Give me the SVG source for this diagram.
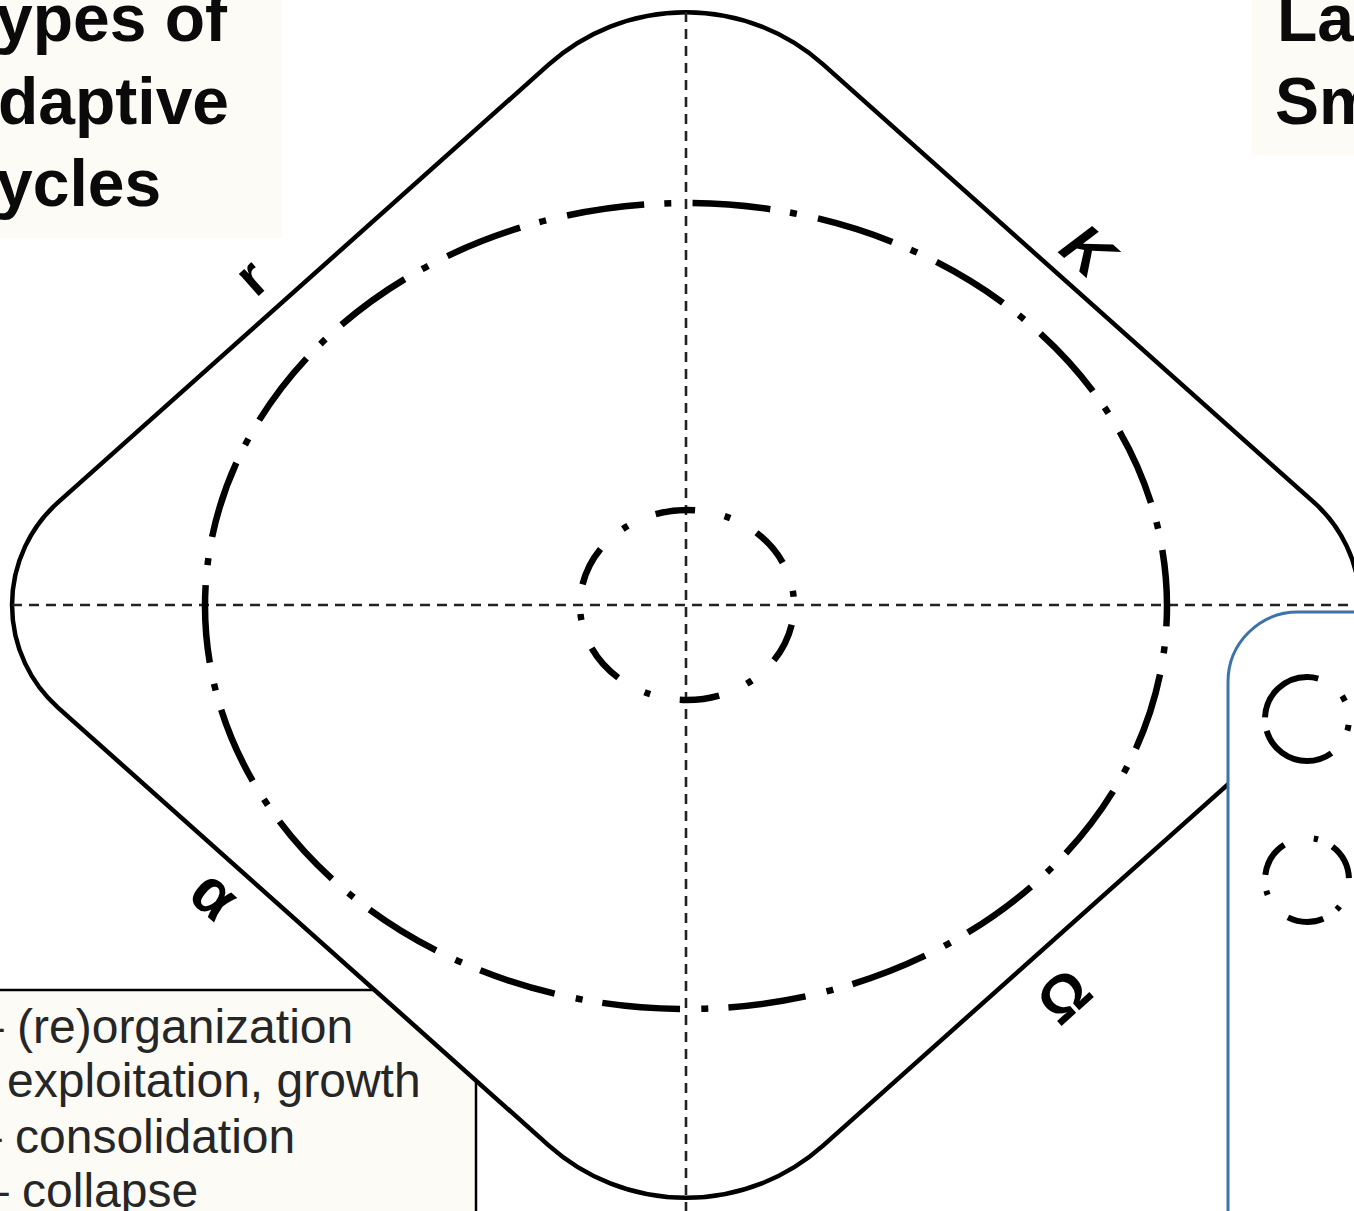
<svg xmlns="http://www.w3.org/2000/svg" width="1354" height="1211" viewBox="0 0 1354 1211">
  <defs>
    <style>
      .cream { fill: #fcfbf6; }
      .title { font-family: "Liberation Sans", Arial, sans-serif; font-weight: bold; font-size: 66px; fill: #0a0a0a; }
      .legend { font-family: "Liberation Sans", Arial, sans-serif; font-size: 48px; fill: #262626; }
      .lbl { font-family: "Liberation Sans", Arial, sans-serif; font-weight: bold; fill: #000; text-anchor: middle; }
      .axis { fill: none; stroke: #222; stroke-width: 2.6; stroke-dasharray: 10 7; }
      .cycle { fill: none; stroke: #000; stroke-width: 6.5; }
    </style>
  </defs>
  <rect width="1354" height="1211" fill="#ffffff"/>

  <g id="title-left">
    <rect class="cream" x="0" y="0" width="282" height="238"/>
    <text class="title" x="-4" y="41">ypes of</text>
    <text class="title" x="-2" y="124">daptive</text>
    <text class="title" x="-4" y="206">ycles</text>
  </g>

  <g id="title-right">
    <rect class="cream" x="1252" y="0" width="110" height="155"/>
    <text class="title" x="1277" y="41">La</text>
    <text class="title" x="1275" y="124">Sm</text>
  </g>

  <g id="legend-box">
    <rect class="cream" x="-5" y="990" width="481" height="300" stroke="#000" stroke-width="2.5"/>
  </g>

  <g id="cycle-shape">
    <path d="M 548.9 64.4 A 206 206 0 0 1 823.1 64.4 L 1314 502.4 A 137.5 137.5 0 0 1 1314 707.6 L 823.1 1145.6 A 206 206 0 0 1 548.9 1145.6 L 58 707.6 A 137.5 137.5 0 0 1 58 502.4 Z" fill="#ffffff" stroke="#000" stroke-width="4.5"/>
  </g>

  <g id="legend-text">
    <text class="legend" x="-23" y="1043">– (re)organization</text>
    <text class="legend" x="-33" y="1097">– exploitation, growth</text>
    <text class="legend" x="-25" y="1153">– consolidation</text>
    <text class="legend" x="-18" y="1207">– collapse</text>
  </g>

  <g id="connectors">
    <line class="axis" x1="12" y1="605" x2="1354" y2="605"/>
    <line class="axis" x1="686" y1="12" x2="686" y2="1211"/>
  </g>

  <g id="large-cycle">
    <ellipse class="cycle" cx="686" cy="606" rx="481" ry="403" stroke-dasharray="78 20 7 21.5" stroke-dashoffset="-69"/>
  </g>

  <g id="small-cycle">
    <ellipse class="cycle" cx="687" cy="605" rx="107" ry="95" stroke-dasharray="40 30 6 30" stroke-dashoffset="-20"/>
  </g>

  <g id="label-r">
    <text class="lbl" font-size="56" transform="translate(254 280) rotate(-41.75)" y="15">r</text>
  </g>
  <g id="label-K">
    <text class="lbl" font-size="62" font-style="italic" transform="translate(1088 250) rotate(41.75)" y="22">K</text>
  </g>
  <g id="label-alpha">
    <text class="lbl" font-size="64" transform="translate(212 898) rotate(41.75)" y="17">α</text>
  </g>
  <g id="label-omega">
    <text class="lbl" font-size="60" transform="translate(1063 995) rotate(-41.75)" y="22">Ω</text>
  </g>

  <g id="scale-legend">
    <rect x="1228" y="612" width="220" height="700" rx="70" ry="70" fill="#ffffff" stroke="#3f72a8" stroke-width="3"/>
    <circle cx="1307" cy="719" r="42" fill="none" stroke="#000" stroke-width="6" stroke-dasharray="5.9 27.9 79.9 13.9 75.5 30.1 5.9 24.9" stroke-dashoffset="-5.9"/>
    <circle cx="1307" cy="880" r="42" fill="none" stroke="#000" stroke-width="6" stroke-dasharray="36.6 30.8 4.4 16.1" stroke-dashoffset="-49.1"/>
  </g>
</svg>
